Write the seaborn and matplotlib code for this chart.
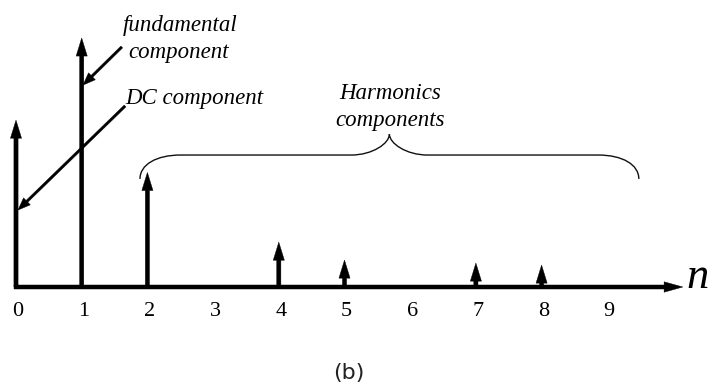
import numpy as np
import pandas as pd
import matplotlib
matplotlib.use("Agg")
import matplotlib.pyplot as plt
from matplotlib.path import Path
from matplotlib.patches import PathPatch
import seaborn as sns

# ---- data ----
harmonic_order = [0, 1, 2, 4, 5, 7, 8]
amplitude = [0.67, 1.0, 0.46, 0.18, 0.108, 0.096, 0.088]
tick_positions = [0, 1, 2, 3, 4, 5, 6, 7, 8, 9]
tick_labels = ["0", "1", "2", "3", "4", "5", "6", "7", "8", "9"]
axis_end = 10.15

df = pd.DataFrame({"n": harmonic_order, "amp": amplitude})

sns.set_style("white")
plt.rcParams["font.family"] = ["Liberation Serif", "DejaVu Serif"]
plt.rcParams["text.color"] = "black"

fig = plt.figure(figsize=(7.12, 3.87), dpi=100)
ax = fig.add_axes([0, 0, 1, 1])
# layout: 65.7 px per harmonic, 249 px per unit amplitude
ax.set_xlim(-16 / 65.7, (712 - 16) / 65.7)
ax.set_ylim((287 - 387) / 249, 287 / 249)
ax.axis("off")
sns.despine(ax=ax, left=True, bottom=True)

# horizontal axis arrow
ax.annotate("", xy=(axis_end, 0), xytext=(-0.03, 0),
            arrowprops=dict(arrowstyle="simple,head_length=13.5,head_width=7.5,tail_width=2.9",
                            mutation_scale=1, color="black", lw=0.3,
                            shrinkA=0, shrinkB=0))

# spectral lines
for _, r in df.iterrows():
    ax.annotate("", xy=(r["n"], r["amp"]), xytext=(r["n"], 0),
                arrowprops=dict(arrowstyle="simple,head_length=13,head_width=8,tail_width=3.0",
                                mutation_scale=1, color="black", lw=0.3,
                                shrinkA=0, shrinkB=0))

# tick labels
for p, lab in zip(tick_positions, tick_labels):
    ax.text(p + 0.03, -0.100, lab, ha="center", va="center", fontsize=16,
            family=["Liberation Serif"], color="black")

ax.text(10.2, -0.004, "n", ha="left", va="baseline", fontsize=32,
        style="italic", family=["Liberation Serif"], color="black")

# annotations
tfs = 16.5
ax.text(2.50, 1.052, "fundamental", ha="center", va="center", fontsize=tfs,
        style="italic", color="black")
ax.text(2.48, 0.940, "component", ha="center", va="center", fontsize=tfs,
        style="italic", color="black")
ax.text(1.66, 0.757, "DC component", ha="left", va="center", fontsize=tfs,
        style="italic", color="black")
ax.text(5.69, 0.779, "Harmonics", ha="center", va="center", fontsize=tfs,
        style="italic", color="black")
ax.text(5.69, 0.667, "components", ha="center", va="center", fontsize=tfs,
        style="italic", color="black")

ptr = dict(arrowstyle="simple,head_length=9,head_width=7,tail_width=1.8",
           mutation_scale=1, color="black", lw=0.3, shrinkA=0, shrinkB=0)
ax.annotate("", xy=(1.02, 0.811), xytext=(1.61, 0.964), arrowprops=ptr)
ax.annotate("", xy=(0.03, 0.309), xytext=(1.66, 0.727), arrowprops=ptr)

# curly brace over harmonics
x0, x1 = 1.887, 9.48
xm = (x0 + x1) / 2
y_end, y_h, y_pk = 0.434, 0.530, 0.614
c = 0.62   # corner width
p = 0.58   # peak curve width
verts = [
    (x0, y_end),
    (x0, y_end + 0.6 * (y_h - y_end)), (x0 + 0.4 * c, y_h), (x0 + c, y_h),
    (xm - p, y_h),
    (xm - p + 0.55 * p, y_h), (xm, y_pk - 0.45 * (y_pk - y_h)), (xm, y_pk),
    (xm, y_pk - 0.45 * (y_pk - y_h)), (xm + p - 0.55 * p, y_h), (xm + p, y_h),
    (x1 - c, y_h),
    (x1 - 0.4 * c, y_h), (x1, y_end + 0.6 * (y_h - y_end)), (x1, y_end),
]
codes = [Path.MOVETO,
         Path.CURVE4, Path.CURVE4, Path.CURVE4,
         Path.LINETO,
         Path.CURVE4, Path.CURVE4, Path.CURVE4,
         Path.CURVE4, Path.CURVE4, Path.CURVE4,
         Path.LINETO,
         Path.CURVE4, Path.CURVE4, Path.CURVE4]
ax.add_patch(PathPatch(Path(verts, codes), fill=False, lw=1.0, edgecolor="#111111"))

# panel label
ax.text(5.07, -0.345, "(b)", ha="center", va="center", fontsize=16,
        family=["DejaVu Sans"], color="#222222")

fig.savefig("out.png", dpi=100)
